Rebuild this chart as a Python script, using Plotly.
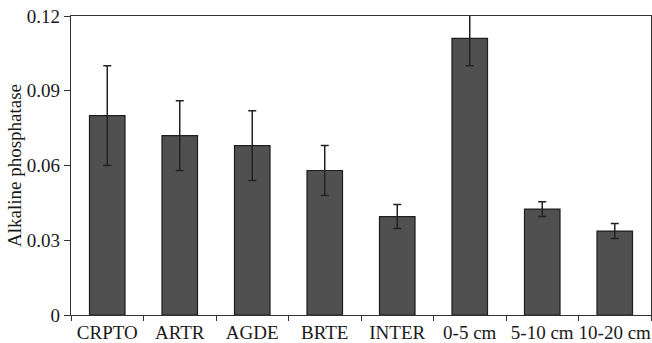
import plotly.graph_objects as go

categories = ["CRPTO", "ARTR", "AGDE", "BRTE", "INTER", "0-5 cm", "5-10 cm", "10-20 cm"]
values = [0.080, 0.072, 0.068, 0.058, 0.0395, 0.111, 0.0425, 0.0337]
errors = [0.020, 0.014, 0.014, 0.010, 0.0048, 0.011, 0.003, 0.003]
y_ticks = [0, 0.03, 0.06, 0.09, 0.12]
y_ticklabels = ["0", "0.03", "0.06", "0.09", "0.12"]

font_family = "Liberation Serif, Times New Roman, serif"

fig = go.Figure(
    go.Bar(
        x=categories,
        y=values,
        width=0.49,
        marker=dict(color="#505050", line=dict(color="#1e1e1e", width=1.2)),
        error_y=dict(type="data", array=errors, visible=True,
                     color="#222222", thickness=1.5, width=4),
    )
)

fig.update_layout(
    width=652, height=343,
    margin=dict(l=71, r=1, t=16, b=28),
    paper_bgcolor="white", plot_bgcolor="white",
    font=dict(family=font_family, size=19, color="#1a1a1a"),
    showlegend=False,
)
fig.update_xaxes(
    showline=True, linecolor="#333333", linewidth=1.2, mirror=True,
    ticks="outside", tickson="boundaries", ticklen=5, tickcolor="#333333",
    showgrid=False, tickfont=dict(size=19), tickangle=0, automargin=False,
)
fig.update_yaxes(
    range=[0, 0.12], tickvals=y_ticks, ticktext=y_ticklabels,
    showline=True, linecolor="#333333", linewidth=1.2, mirror=True,
    ticks="outside", ticklen=6, tickcolor="#333333",
    showgrid=False, zeroline=False, tickfont=dict(size=19), automargin=False,
    title=dict(text="Alkaline phosphatase", font=dict(size=19), standoff=0),
)

fig.write_html(
    "out.html",
    config={"displayModeBar": False},
    post_script="document.body.style.margin='0';document.body.style.overflow='hidden';",
)
